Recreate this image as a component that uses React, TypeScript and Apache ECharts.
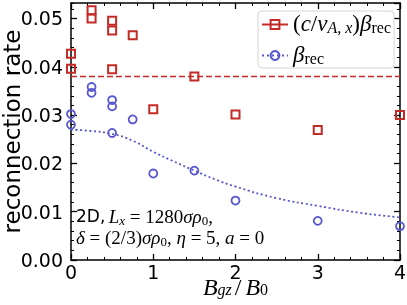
import React, { useEffect, useRef } from "react";
import * as echarts from "echarts";

const RED = "#c42a26";
const BLUE = "#5656cf";

// red squares: (c/v_{A,x}) beta_rec
const redX = [0, 0, 0.25, 0.25, 0.5, 0.5, 0.5, 0.75, 1, 1.5, 2, 3, 4];
const redY = [0.0427, 0.0396, 0.0517, 0.05, 0.0495, 0.0475, 0.0395, 0.0465, 0.0312, 0.038, 0.0301, 0.0269, 0.03];
// blue circles: beta_rec
const blueX = [0, 0, 0.25, 0.25, 0.5, 0.5, 0.5, 0.75, 1, 1.5, 2, 3, 4];
const blueY = [0.0302, 0.028, 0.0358, 0.0346, 0.0331, 0.0318, 0.0263, 0.0291, 0.0179, 0.0185, 0.0123, 0.0081, 0.007];
// dotted fit curve
const fitX = [0, 0.25, 0.5, 0.75, 1, 1.25, 1.5, 1.75, 2, 2.5, 3, 3.5, 4];
const fitY = [0.027, 0.0267, 0.0261, 0.0247, 0.0224, 0.0204, 0.0185, 0.0167, 0.0152, 0.0128, 0.0112, 0.0098, 0.0088];
// dashed horizontal reference
const refX = [0, 4];
const refLevel = 0.038;

const xTicks = [0, 1, 2, 3, 4];
const yTicks = [0, 0.01, 0.02, 0.03, 0.04, 0.05];
const yMax = 0.0532;

const RED_NAME = "(c/v_{A,x})β_rec";
const BLUE_NAME = "β_rec";

const SERIF = "Liberation Serif";
const SANS = "DejaVu Sans";

export default function App() {
  const ref = useRef<HTMLDivElement>(null);
  useEffect(() => {
    const chart = echarts.init(ref.current!, null, { renderer: "svg" });
    const pair = (xs: number[], ys: number[]) => xs.map((x, i) => [x, ys[i]]);
    const tickCommon = (len: number, w: number) => ({
      show: true,
      inside: true,
      length: len,
      lineStyle: { color: "#000", width: w },
    });
    const xMajor = {
      type: "value",
      min: xTicks[0],
      max: xTicks[xTicks.length - 1],
      interval: 1,
      splitLine: { show: false },
      axisLine: { show: true, onZero: false, lineStyle: { color: "#000", width: 1.5 } },
      axisTick: tickCommon(6, 1.3),
      minorTick: { show: true, splitNumber: 5, length: 3, lineStyle: { color: "#000", width: 1 } },
    };
    const yBase = (interval: number, len: number, w: number) => ({
      type: "value",
      min: 0,
      max: yMax,
      interval,
      splitLine: { show: false },
      axisLine: { show: false, onZero: false },
      axisTick: tickCommon(len, w),
      axisLabel: { show: false },
    });
    const option: any = {
      animation: false,
      grid: { left: 71, right: 7, top: 3, bottom: 45, containLabel: false, outerBoundsMode: "none" },
      xAxis: [
        {
          ...xMajor,
          position: "bottom",
          axisLabel: { show: true, color: "#000", fontFamily: SANS, fontSize: 19, lineHeight: 13, margin: 5 },
          name: "{it|B}{sub|gz}{rm|/}{it|B}{sub0|0}",
          nameLocation: "middle",
          nameGap: 19,
          nameMoveOverlap: false,
          nameTextStyle: {
            color: "#000",
            rich: {
              it: { fontFamily: SERIF, fontStyle: "italic", fontSize: 24, lineHeight: 18, padding: [0, 0, 3, 0], color: "#000" },
              rm: { fontFamily: SERIF, fontSize: 24, lineHeight: 18, padding: [0, 4, 3, 3], color: "#000" },
              sub: { fontFamily: SERIF, fontStyle: "italic", fontSize: 16, lineHeight: 6, verticalAlign: "bottom", color: "#000" },
              sub0: { fontFamily: SERIF, fontSize: 16, lineHeight: 6, verticalAlign: "bottom", color: "#000" },
            },
          },
        },
        { ...xMajor, position: "top", axisLabel: { show: false } },
      ],
      yAxis: [
        {
          ...yBase(0.01, 6, 1.3),
          position: "left",
          axisLine: { show: true, onZero: false, lineStyle: { color: "#000", width: 1.5 } },
          axisLabel: {
            show: true,
            color: "#000",
            fontFamily: SANS,
            fontSize: 19,
            margin: 8,
            showMaxLabel: false,
            formatter: (v: number) => (yTicks.some((t) => Math.abs(t - v) < 1e-9) ? v.toFixed(2) : ""),
          },
          name: "reconnection rate",
          nameLocation: "middle",
          nameGap: 48,
          nameMoveOverlap: false,
          nameTextStyle: { color: "#000", fontFamily: SANS, fontSize: 23 },
        },
        { ...yBase(0.002, 3, 1), position: "left" },
        {
          ...yBase(0.01, 6, 1.3),
          position: "right",
          axisLine: { show: true, onZero: false, lineStyle: { color: "#000", width: 1.5 } },
        },
        { ...yBase(0.002, 3, 1), position: "right" },
      ],
      legend: {
        orient: "vertical",
        right: 13,
        top: 11,
        itemWidth: 26,
        itemHeight: 11,
        itemGap: 6,
        padding: [1, 3, 0, 3],
        backgroundColor: "rgba(255,255,255,0.85)",
        borderColor: "#d4d4d4",
        borderWidth: 1,
        borderRadius: 4,
        selectedMode: false,
        data: [
          { name: RED_NAME, lineStyle: { color: RED, width: 2, type: "solid", opacity: 1 } },
          { name: BLUE_NAME, lineStyle: { color: BLUE, width: 2, type: [2, 3], opacity: 1 } },
        ],
        formatter: (name: string) =>
          name === RED_NAME
            ? "{rm|(}{it|c}{rm|/}{it|v}{subi|A, x}{rm|)}{it|β}{sub|rec}"
            : "{it|β}{sub|rec}",
        textStyle: {
          color: "#000",
          rich: {
            it: { fontFamily: SERIF, fontStyle: "italic", fontSize: 23, lineHeight: 21, padding: [0, 0, 2, 0], color: "#000" },
            rm: { fontFamily: SERIF, fontSize: 23, lineHeight: 21, padding: [0, 0, 2, 0], color: "#000" },
            sub: { fontFamily: SERIF, fontSize: 16, lineHeight: 8, verticalAlign: "bottom", color: "#000" },
            subi: { fontFamily: SERIF, fontStyle: "italic", fontSize: 16, lineHeight: 8, verticalAlign: "bottom", color: "#000" },
          },
        },
      },
      series: [
        {
          name: RED_NAME,
          type: "line",
          xAxisIndex: 0,
          yAxisIndex: 0,
          data: pair(redX, redY),
          symbol: "rect",
          symbolSize: 8,
          showSymbol: true,
          lineStyle: { opacity: 0, color: RED },
          itemStyle: { color: "rgba(255,255,255,0)", borderColor: RED, borderWidth: 2 },
          emphasis: { disabled: true },
          z: 4,
        },
        {
          name: "reference",
          type: "line",
          xAxisIndex: 0,
          yAxisIndex: 0,
          data: refX.map((x) => [x, refLevel]),
          showSymbol: false,
          symbol: "none",
          lineStyle: { color: RED, width: 1.6, type: [6, 3] },
          emphasis: { disabled: true },
          z: 3,
        },
        {
          name: BLUE_NAME,
          type: "line",
          xAxisIndex: 0,
          yAxisIndex: 0,
          data: pair(blueX, blueY),
          symbol: "circle",
          symbolSize: 8,
          showSymbol: true,
          lineStyle: { opacity: 0, color: BLUE },
          itemStyle: { color: "rgba(255,255,255,0)", borderColor: BLUE, borderWidth: 1.8 },
          emphasis: { disabled: true },
          z: 4,
        },
        {
          name: "fit",
          type: "line",
          xAxisIndex: 0,
          yAxisIndex: 0,
          data: pair(fitX, fitY),
          smooth: true,
          showSymbol: false,
          symbol: "none",
          lineStyle: { color: BLUE, width: 1.8, type: [2, 2.6] },
          emphasis: { disabled: true },
          z: 3,
        },
      ],
      graphic: [
        {
          type: "text",
          x: 76,
          y: 217,
          z: 10,
          style: {
            text: "{sf|2D,} {it|L}{sub|x}{rm| = 1280}{it|σρ}{sub0|0}{rm|,}",
            verticalAlign: "middle",
            rich: {
              sf: { fontFamily: SANS, fontSize: 17, lineHeight: 20, padding: [0, 0, 2, 0], fill: "#000" },
              it: { fontFamily: SERIF, fontStyle: "italic", fontSize: 19, lineHeight: 20, padding: [0, 0, 2, 0], fill: "#000" },
              rm: { fontFamily: SERIF, fontSize: 19, lineHeight: 20, padding: [0, 0, 2, 0], fill: "#000" },
              sub: { fontFamily: SERIF, fontStyle: "italic", fontSize: 13, lineHeight: 8, verticalAlign: "bottom", fill: "#000" },
              sub0: { fontFamily: SERIF, fontSize: 13, lineHeight: 8, verticalAlign: "bottom", fill: "#000" },
            },
          },
        },
        {
          type: "text",
          x: 76,
          y: 238,
          z: 10,
          style: {
            text: "{it|δ}{rm| = (2/3)}{it|σρ}{sub0|0}{rm|, }{it|η}{rm| = 5, }{it|a}{rm| = 0}",
            verticalAlign: "middle",
            rich: {
              it: { fontFamily: SERIF, fontStyle: "italic", fontSize: 19, lineHeight: 20, padding: [0, 0, 2, 0], fill: "#000" },
              rm: { fontFamily: SERIF, fontSize: 19, lineHeight: 20, padding: [0, 0, 2, 0], fill: "#000" },
              sub0: { fontFamily: SERIF, fontSize: 13, lineHeight: 8, verticalAlign: "bottom", fill: "#000" },
            },
          },
        },
      ],
    };
    chart.setOption(option);
    return () => chart.dispose();
  }, []);
  return <div ref={ref} style={{ position: "fixed", left: 0, top: 0, width: 407, height: 305 }} />;
}
